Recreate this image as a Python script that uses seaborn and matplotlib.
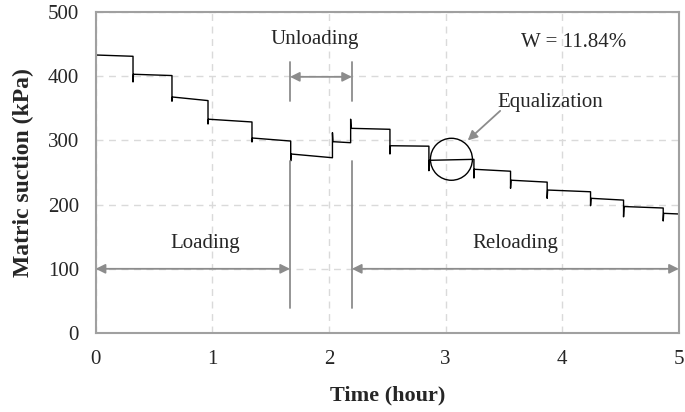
import numpy as np
import pandas as pd
import matplotlib
matplotlib.use("Agg")
import matplotlib.pyplot as plt
import seaborn as sns
from matplotlib.patches import Ellipse

# ---- data ----
step_start = [0.0, 0.32, 0.654, 0.963, 1.34, 1.672, 2.03, 2.186, 2.523, 2.857,
              3.243, 3.557, 3.871, 4.243, 4.526, 4.866]
start_val = [433, 403, 367.6, 333, 303.7, 278.8, 298, 318.8, 291.7, 269,
             255, 238, 222.7, 209.8, 197, 186.4]
end_val = [431, 401, 362, 328.7, 299, 273, 296.4, 317.3, 291, 270.5,
           252, 235, 220, 207, 194.7, 185.4]
spike_val = [433, 391, 361, 325.5, 297.5, 268, 312, 333, 278.8, 252.8,
             241.4, 225.4, 209.8, 198.3, 181, 174.5]
t_end = 5.0

xticks = [0, 1, 2, 3, 4, 5]
yticks = [0, 100, 200, 300, 400, 500]

# build the step-curve trace
ts, vs = [], []
bounds = step_start[1:] + [t_end]
for i, t0 in enumerate(step_start):
    ts += [t0, t0 + 0.004, bounds[i]]
    vs += [spike_val[i], start_val[i], end_val[i]]
df = pd.DataFrame({"Time (hour)": ts, "Matric suction (kPa)": vs})

sns.set_style("white")
plt.rcParams["font.family"] = ["Liberation Serif", "DejaVu Serif"]

fig = plt.figure(figsize=(6.85, 4.12), dpi=100)
ax = fig.add_axes([0.1397, 0.1917, 0.991 - 0.1397, 0.9709 - 0.1917])

sns.lineplot(data=df, x="Time (hour)", y="Matric suction (kPa)", sort=False,
             color="black", linewidth=1.0, ax=ax, estimator=None)

ax.set_xlim(0, 5)
ax.set_ylim(0, 500)
ax.set_xticks(xticks)
ax.set_yticks(yticks)
ax.grid(True, color="#dadada", linestyle=(0, (5, 4)), linewidth=1.0)
for s in ax.spines.values():
    s.set_color("#a0a0a0")
    s.set_linewidth(1.5)
ax.tick_params(axis="both", length=0, labelsize=15)
ax.tick_params(axis="y", pad=12)
ax.tick_params(axis="x", pad=12)
ax.set_xlabel("Time (hour)", fontsize=16, fontweight="bold", labelpad=12)
ax.set_ylabel("Matric suction (kPa)", fontsize=17, fontweight="bold", labelpad=10)

gray = "#8c8c8c"
t_a, t_b = 1.666, 2.197
# vertical markers
for t in (t_a, t_b):
    ax.plot([t, t], [361, 422], color=gray, lw=1.3)
    ax.plot([t, t], [39, 268], color=gray, lw=1.3)

arrow = dict(arrowstyle="<|-|>", color=gray, lw=1.3, mutation_scale=14,
             shrinkA=0, shrinkB=0)
ax.annotate("", xy=(0, 100), xytext=(t_a, 100), arrowprops=arrow)
ax.annotate("", xy=(t_b, 100), xytext=(5, 100), arrowprops=arrow)
ax.annotate("", xy=(t_a, 399), xytext=(t_b, 399), arrowprops=arrow)

fs = 15
ax.text(0.94, 140, "Loading", fontsize=fs, ha="center", va="center")
ax.text(3.6, 140, "Reloading", fontsize=fs, ha="center", va="center")
ax.text(1.88, 457, "Unloading", fontsize=fs, ha="center", va="center")
ax.text(4.1, 453, "W = 11.84%", fontsize=fs, ha="center", va="center")
ax.text(3.9, 359, "Equalization", fontsize=fs, ha="center", va="center")

ax.add_patch(Ellipse((3.05, 270.6), 0.36, 65.4, fill=False, edgecolor="black", lw=1.0))
ax.annotate("", xy=(3.19, 300), xytext=(3.468, 346),
            arrowprops=dict(arrowstyle="-|>", color=gray, lw=1.3, mutation_scale=14,
                            shrinkA=0, shrinkB=0))

fig.savefig("out.png", dpi=100)
